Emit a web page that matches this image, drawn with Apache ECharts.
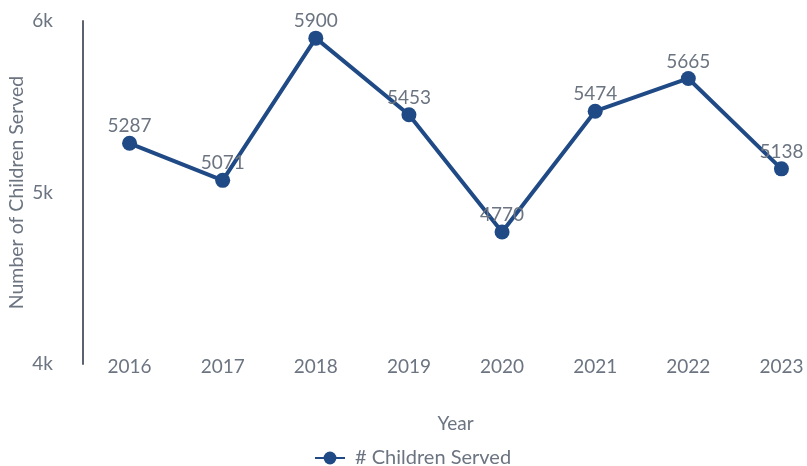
<!DOCTYPE html>
<html>
<head>
<meta charset="utf-8">
<script src="https://cdn.jsdelivr.net/npm/echarts@6/dist/echarts.min.js"></script>
<style>
  html, body { margin: 0; padding: 0; background: #fff; }
  #chart { width: 807px; height: 466px; }
</style>
</head>
<body>
<div id="chart"></div>
<script>
var years = ['2016', '2017', '2018', '2019', '2020', '2021', '2022', '2023']
var childrenServed = [5287, 5071, 5900, 5453, 4770, 5474, 5665, 5138]
var seriesName = '# Children Served'

var textColor = '#6b7480'
var lineColor = '#1f4a85'

var chart = echarts.init(document.getElementById('chart'))
chart.setOption({
  textStyle: { fontFamily: 'Lato' },
  legend: {
    top: 443,
    left: 309,
    itemWidth: 30,
    itemHeight: 16,
    textStyle: { color: textColor, fontSize: 20, fontFamily: 'Lato', padding: [0, 0, 0, 5] },
    data: [seriesName]
  },
  grid: {
    left: 83,
    right: -21,
    top: 21,
    bottom: 102,
    outerBoundsMode: 'none'
  },
  xAxis: {
    type: 'category',
    data: years,
    name: 'Year',
    nameLocation: 'middle',
    nameGap: 50,
    nameMoveOverlap: false,
    nameTextStyle: { color: textColor, fontSize: 19, fontFamily: 'Lato' },
    axisLine: { show: false },
    axisTick: { show: false },
    axisLabel: { color: textColor, fontSize: 19, margin: -7, fontFamily: 'Lato' }
  },
  yAxis: {
    type: 'value',
    min: 4000,
    max: 6000,
    interval: 1000,
    name: 'Number of Children Served',
    nameLocation: 'middle',
    nameGap: 56,
    nameMoveOverlap: false,
    nameTextStyle: { color: textColor, fontSize: 19.5, fontFamily: 'Lato' },
    axisLine: { show: true, lineStyle: { color: '#5c6370', width: 2 } },
    axisTick: { show: false },
    splitLine: { show: false },
    axisLabel: {
      color: textColor,
      fontSize: 19,
      margin: 30,
      fontFamily: 'Lato',
      formatter: function(v) { return (v / 1000) + 'k' }
    }
  },
  series: [{
    name: seriesName,
    type: 'line',
    data: childrenServed,
    symbol: 'circle',
    symbolSize: 15,
    lineStyle: { color: lineColor, width: 4 },
    itemStyle: { color: lineColor },
    label: {
      show: true,
      position: 'top',
      distance: 0,
      color: textColor,
      fontSize: 19,
      fontFamily: 'Lato'
    }
  }]
})
</script>
</body>
</html>
